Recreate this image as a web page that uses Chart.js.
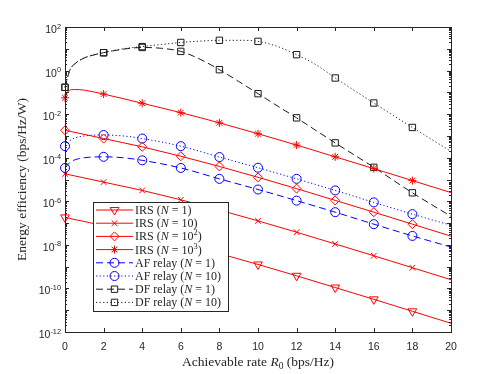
<!DOCTYPE html>
<html>
<head>
<meta charset="utf-8">
<script src="https://cdn.jsdelivr.net/npm/chart.js@4.4.1/dist/chart.umd.min.js"></script>
<style>
  html, body { margin: 0; padding: 0; background: #fff; }
  #wrap { width: 498px; height: 374px; }
</style>
</head>
<body>
<div id="wrap"><canvas id="ee" width="498" height="374"></canvas></div>
<script>
// achievable rate R0 (bps/Hz) sampled by each curve
const rateEven = [0, 2, 4, 6, 8, 10, 12, 14, 16, 18, 20];
const irsN1000Rate = [0, 0.15, 0.5, 1, 2, 4, 6, 8, 10, 12, 14, 16, 18, 20];
const afRate = [0, 0.25, 0.5, 1, 2, 3, 4, 6, 8, 10, 12, 14, 16, 18, 20];
const dfRate = [0, 0.25, 0.5, 1, 1.5, 2, 3, 4, 5, 6, 7, 8, 9, 10, 11, 12, 13, 14, 16, 18, 20];

// energy efficiency (bps/Hz/W)
const irsN1 = [1.82e-7, 7.59e-8, 3.16e-8, 1.17e-8, 3.98e-9, 1.26e-9, 3.80e-10, 1.10e-10, 3.16e-11, 8.91e-12, 2.51e-12];
const irsN10 = [1.82e-5, 7.59e-6, 3.16e-6, 1.17e-6, 3.98e-7, 1.26e-7, 3.80e-8, 1.10e-8, 3.16e-9, 8.91e-10, 2.51e-10];
const irsN100 = [1.82e-3, 7.59e-4, 3.16e-4, 1.17e-4, 3.98e-5, 1.26e-5, 3.80e-6, 1.10e-6, 3.16e-7, 8.91e-8, 2.51e-8];
const irsN1000 = [5.62e-2, 0.112, 0.135, 0.126, 8.32e-2, 3.16e-2, 1.17e-2, 3.98e-3, 1.26e-3, 3.80e-4, 1.10e-4, 3.16e-5, 8.91e-6, 2.51e-6];
const afN1 = [3.39e-5, 6.03e-5, 7.94e-5, 1.0e-4, 1.10e-4, 1.0e-4, 7.59e-5, 3.39e-5, 1.07e-5, 3.47e-6, 1.07e-6, 3.16e-7, 8.91e-8, 2.57e-8, 7.94e-9];
const afN10 = [3.39e-4, 6.03e-4, 7.94e-4, 1.0e-3, 1.10e-3, 1.0e-3, 7.59e-4, 3.39e-4, 1.07e-4, 3.47e-5, 1.07e-5, 3.16e-6, 8.91e-7, 2.57e-7, 7.94e-8];
const dfN1 = [0.170, 1.05, 2.0, 3.8, 5.25, 6.61, 9.55, 11.5, 10.5, 7.59, 3.31, 1.10, 0.316, 8.71e-2, 2.40e-2, 6.76e-3, 1.78e-3, 4.79e-4, 3.63e-5, 2.45e-6, 2.04e-7];
const dfN10 = [0.170, 1.05, 2.0, 3.8, 5.25, 6.61, 10.0, 12.6, 15.8, 19.5, 22.4, 24.5, 24.5, 21.9, 12.9, 5.37, 1.86, 0.457, 3.24e-2, 2.45e-3, 1.95e-4];

const xTicks = [0, 2, 4, 6, 8, 10, 12, 14, 16, 18, 20];
const yTickExps = [2, 0, -2, -4, -6, -8, -10, -12];
// $..$ = italic, ^ = superscript, _ = subscript
const legendLabels = [
  'IRS ($N$ = 1)',
  'IRS ($N$ = 10)',
  'IRS ($N$ = 10^2)',
  'IRS ($N$ = 10^3)',
  'AF relay ($N$ = 1)',
  'AF relay ($N$ = 10)',
  'DF relay ($N$ = 1)',
  'DF relay ($N$ = 10)'
];
const xTitle = 'Achievable rate $R$_0 (bps/Hz)';
const yTitle = 'Energy efficiency (bps/Hz/W)';

const SANS = '"Liberation Sans", Arial, sans-serif';
const SERIF = '"Liberation Serif", "Times New Roman", serif';
const AXIS = '#262626';
const RED = '#ff0000', BLUE = '#0000ff', BLACK = '#1a1a1a';
const DASH = [7, 4], DOT = [1.2, 2.4];

function pts(xs, ys) {
  return xs.map((x, i) => ({ x: x, y: ys[i] }));
}

// markers only every 2 bps/Hz, not on the last sample
function markerAt(r) {
  return ctx => {
    const x = ctx.raw ? ctx.raw.x : -1;
    return (x % 2 === 0 && x < 20) ? r : 0;
  };
}

function series(label, xs, ys, color, dash, style, r, rot, smooth) {
  return {
    label: label,
    data: pts(xs, ys),
    borderColor: color,
    borderWidth: 1,
    borderDash: dash,
    backgroundColor: 'rgba(0,0,0,0)',
    pointStyle: style,
    pointRotation: rot,
    pointRadius: markerAt(r),
    pointBorderColor: color,
    pointBackgroundColor: 'rgba(0,0,0,0)',
    pointBorderWidth: 1,
    cubicInterpolationMode: smooth ? 'monotone' : 'default',
    tension: 0,
    clip: false,
    // kept for the legend
    mk: { style: style, r: r, rot: rot }
  };
}

const datasets = [
  series(legendLabels[0], rateEven, irsN1, RED, [], 'triangle', 5, 180, false),
  series(legendLabels[1], rateEven, irsN10, RED, [], 'crossRot', 4, 0, false),
  series(legendLabels[2], rateEven, irsN100, RED, [], 'rectRot', 4.5, 0, false),
  series(legendLabels[3], irsN1000Rate, irsN1000, RED, [], 'star', 4, 0, true),
  series(legendLabels[4], afRate, afN1, BLUE, DASH, 'circle', 4.5, 0, true),
  series(legendLabels[5], afRate, afN10, BLUE, DOT, 'circle', 4.5, 0, true),
  series(legendLabels[6], dfRate, dfN1, BLACK, DASH, 'rect', 4.5, 0, true),
  series(legendLabels[7], dfRate, dfN10, BLACK, DOT, 'rect', 4.5, 0, true)
];

function parseRich(str) {
  const runs = [];
  let italic = false;
  for (let i = 0; i < str.length; i++) {
    const c = str[i];
    if (c === '$') { italic = !italic; continue; }
    if (c === '^' || c === '_') {
      let t;
      if (str[i + 1] === '{') {
        const j = str.indexOf('}', i);
        t = str.slice(i + 2, j);
        i = j;
      } else {
        t = str[i + 1];
        i++;
      }
      runs.push({ t: t, italic: false, script: c });
      continue;
    }
    const last = runs[runs.length - 1];
    if (last && !last.script && last.italic === italic) last.t += c;
    else runs.push({ t: c, italic: italic, script: null });
  }
  return runs;
}

function drawRich(ctx, str, x, y, size, family, align) {
  const runs = parseRich(str);
  const fontOf = r => (r.italic ? 'italic ' : '') + (r.script ? size * 0.7 : size) + 'px ' + family;
  let w = 0;
  runs.forEach(r => { ctx.font = fontOf(r); r.w = ctx.measureText(r.t).width; w += r.w; });
  let cx = align === 'center' ? x - w / 2 : align === 'right' ? x - w : x;
  ctx.textAlign = 'left';
  ctx.textBaseline = 'alphabetic';
  runs.forEach(r => {
    ctx.font = fontOf(r);
    const dy = r.script === '^' ? -size * 0.42 : r.script === '_' ? size * 0.22 : 0;
    ctx.fillText(r.t, cx, y + dy);
    cx += r.w;
  });
}

// MATLAB-like box, inward ticks, labels and the legend
const figureDecor = {
  id: 'figureDecor',
  afterDraw(chart) {
    const ctx = chart.ctx;
    const a = chart.chartArea;
    const xs = chart.scales.x, ys = chart.scales.y;
    ctx.save();
    ctx.strokeStyle = AXIS;
    ctx.lineWidth = 1;
    ctx.setLineDash([]);
    ctx.beginPath();
    xTicks.forEach(v => {
      const px = Math.round(xs.getPixelForValue(v)) + 0.5;
      ctx.moveTo(px, a.bottom); ctx.lineTo(px, a.bottom - 4);
      ctx.moveTo(px, a.top); ctx.lineTo(px, a.top + 4);
    });
    for (let e = -12; e <= 2; e++) {
      const py = Math.round(ys.getPixelForValue(Math.pow(10, e))) + 0.5;
      ctx.moveTo(a.left, py); ctx.lineTo(a.left + 4, py);
      ctx.moveTo(a.right, py); ctx.lineTo(a.right - 4, py);
      if (e < 2) {
        for (let k = 2; k <= 9; k++) {
          const pm = Math.round(ys.getPixelForValue(k * Math.pow(10, e))) + 0.5;
          ctx.moveTo(a.left, pm); ctx.lineTo(a.left + 2, pm);
          ctx.moveTo(a.right, pm); ctx.lineTo(a.right - 2, pm);
        }
      }
    }
    ctx.stroke();
    ctx.strokeRect(Math.round(a.left) + 0.5, Math.round(a.top) + 0.5,
      Math.round(a.right - a.left), Math.round(a.bottom - a.top));

    ctx.fillStyle = AXIS;
    ctx.font = '10.5px ' + SANS;
    ctx.textAlign = 'center';
    ctx.textBaseline = 'alphabetic';
    xTicks.forEach(v => ctx.fillText(String(v), xs.getPixelForValue(v), 350));
    yTickExps.forEach(e => {
      drawRich(ctx, '10^{' + e + '}', 61, ys.getPixelForValue(Math.pow(10, e)) + 6, 10.5, SANS, 'right');
    });

    drawRich(ctx, xTitle, (a.left + a.right) / 2, 366, 13.5, SERIF, 'center');
    ctx.save();
    ctx.translate(22, (a.top + a.bottom) / 2);
    ctx.rotate(-Math.PI / 2);
    ctx.font = '13.5px ' + SERIF;
    ctx.textAlign = 'center';
    ctx.textBaseline = 'middle';
    ctx.fillText(yTitle, 0, 0);
    ctx.restore();

    // legend
    const lx = 93.5, ly = 202.5, lw = 135, lh = 109;
    ctx.fillStyle = '#fff';
    ctx.fillRect(lx, ly, lw, lh);
    ctx.strokeStyle = AXIS;
    ctx.strokeRect(lx, ly, lw, lh);
    chart.data.datasets.forEach((ds, i) => {
      const y = 210 + i * 13.2;
      ctx.strokeStyle = ds.borderColor;
      ctx.setLineDash(ds.borderDash);
      ctx.beginPath();
      ctx.moveTo(96, y); ctx.lineTo(133, y);
      ctx.stroke();
      ctx.setLineDash([]);
      ctx.fillStyle = 'rgba(0,0,0,0)';
      Chart.helpers.drawPoint(ctx, {
        pointStyle: ds.mk.style, radius: ds.mk.r, rotation: ds.mk.rot, borderWidth: 1
      }, 114.5, y);
      ctx.fillStyle = AXIS;
      drawRich(ctx, ds.label, 135, y + 4, 12, SERIF, 'left');
    });
    ctx.restore();
  }
};

const chart = new Chart(document.getElementById('ee'), {
  type: 'line',
  data: { datasets: datasets },
  options: {
    responsive: false,
    animation: false,
    devicePixelRatio: 1,
    layout: { padding: { left: 65, right: 47, top: 27, bottom: 42 } },
    scales: {
      x: { type: 'linear', min: 0, max: 20, display: false },
      y: { type: 'logarithmic', min: 1e-12, max: 1e2, display: false }
    },
    plugins: {
      legend: { display: false },
      tooltip: { enabled: false }
    }
  },
  plugins: [figureDecor]
});
</script>
</body>
</html>
